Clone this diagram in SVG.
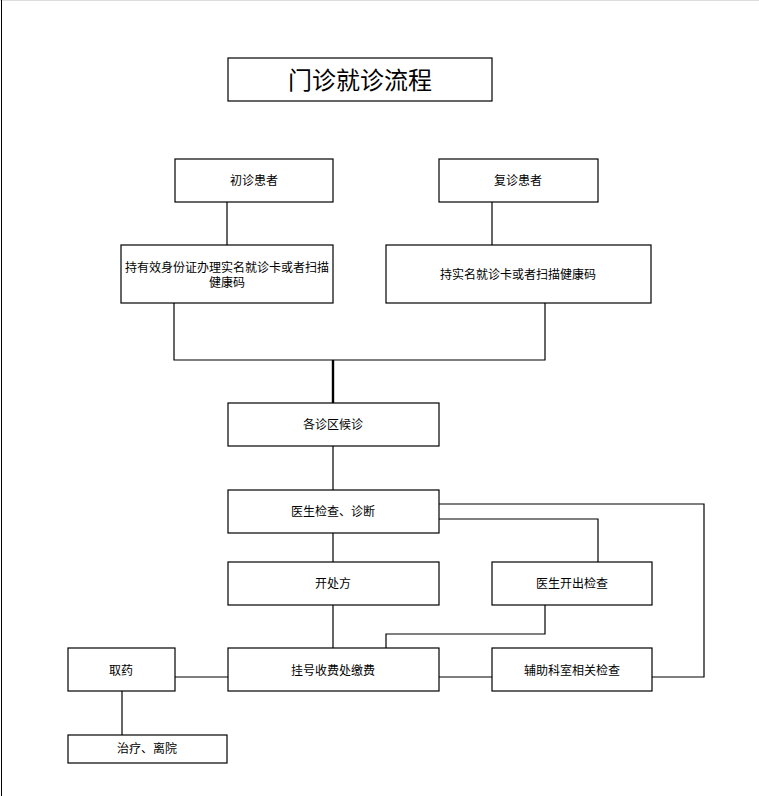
<svg xmlns="http://www.w3.org/2000/svg" width="759" height="796" viewBox="0 0 759 796">
<style>
rect{fill:#fff;stroke:#000;stroke-width:1.2}
text{font-family:"Liberation Sans","Noto Sans CJK SC",sans-serif;font-size:12px;text-anchor:middle;fill:#000}
.c{fill:none;stroke:#000;stroke-width:1.2}
</style>
<rect width="759" height="796" style="stroke:none"/>
<line x1="0" y1="0.5" x2="759" y2="0.5" stroke="#ddd"/>
<line x1="1.5" y1="0" x2="1.5" y2="796" stroke="#000"/>
<g id="connectors">
<path class="c" d="M227 202V245M492 202V245M174 303V360H545V303M439 504H704V677H652M439 519H598V562M545 605V634H386V648M439 677H492M175 677H228M122 691V735M333 446V490M333 533V562M333 605V648"/>
<path class="c" style="stroke-width:2.4" d="M333 360V403"/>
</g>
<g id="title"><rect x="228" y="58" width="264" height="43"/><text x="360" y="89" style="font-size:24px">门诊就诊流程</text></g>
<g id="n1"><rect x="175" y="159" width="158" height="43"/><text x="254" y="185">初诊患者</text></g>
<g id="n2"><rect x="439" y="159" width="159" height="43"/><text x="518" y="185">复诊患者</text></g>
<g id="n3"><rect x="121" y="245" width="212" height="58"/><text x="227" y="272">持有效身份证办理实名就诊卡或者扫描</text><text x="227" y="287">健康码</text></g>
<g id="n4"><rect x="386" y="245" width="265" height="58"/><text x="518" y="279">持实名就诊卡或者扫描健康码</text></g>
<g id="n5"><rect x="228" y="403" width="211" height="43"/><text x="333" y="429">各诊区候诊</text></g>
<g id="n6"><rect x="228" y="490" width="211" height="43"/><text x="333" y="516">医生检查、诊断</text></g>
<g id="n7"><rect x="228" y="562" width="211" height="43"/><text x="333" y="588">开处方</text></g>
<g id="n8"><rect x="492" y="562" width="160" height="43"/><text x="572" y="588">医生开出检查</text></g>
<g id="n9"><rect x="228" y="648" width="211" height="43"/><text x="333" y="675">挂号收费处缴费</text></g>
<g id="n10"><rect x="492" y="648" width="160" height="43"/><text x="572" y="675">辅助科室相关检查</text></g>
<g id="n11"><rect x="68" y="648" width="107" height="43"/><text x="121" y="675">取药</text></g>
<g id="n12"><rect x="68" y="735" width="159" height="28"/><text x="147" y="753">治疗、离院</text></g>
</svg>
